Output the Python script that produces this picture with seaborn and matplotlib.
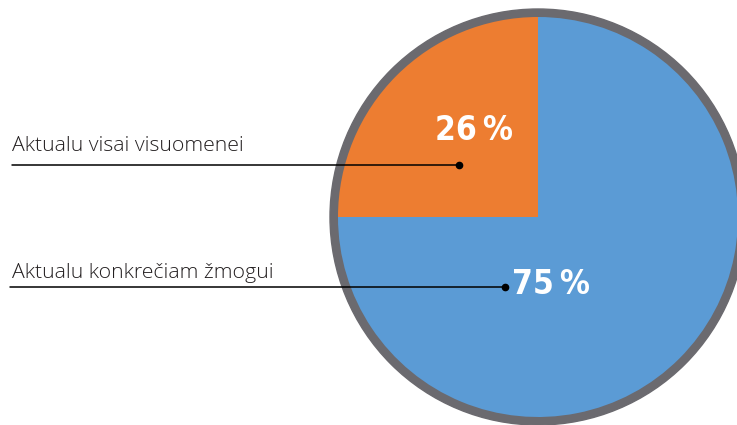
import matplotlib
matplotlib.use('Agg')
import matplotlib.pyplot as plt
import seaborn as sns
from matplotlib.patches import Circle

# slice sizes as drawn (a quarter / three quarters) and the printed labels
labels = ['Aktualu visai visuomenei', 'Aktualu konkrečiam žmogui']
slice_sizes = [25, 75]
pct_labels = ['26\u2009%', '75\u2009%']
colors = ['#ED7D31', '#5B9BD5']
ring_color = '#6B6A6F'

sns.set_theme(style='white')

W, H = 737, 425
fig = plt.figure(figsize=(W / 100, H / 100), dpi=100)
ax = fig.add_axes([0, 0, 1, 1])

cx, cy, r = 538, 208, 200

# grey outer ring behind the pie
ax.add_patch(Circle((cx, cy), r + 8, color=ring_color, zorder=0))

wedges, _ = ax.pie(slice_sizes, colors=colors, startangle=90, counterclock=True,
                   center=(cx, cy), radius=r, frame=True,
                   wedgeprops=dict(linewidth=0))

ax.set_xlim(0, W)
ax.set_ylim(0, H)
ax.set_aspect('equal')
ax.axis('off')

# percentage labels inside the slices
pct_pos = [(474, 295), (551, 140)]
for txt, (px, py) in zip(pct_labels, pct_pos):
    ax.text(px, py, txt, color='white', fontsize=24, fontweight='bold',
            fontstretch='condensed',
            family=['Liberation Sans Narrow', 'DejaVu Sans'],
            ha='center', va='center')

# category labels with leader lines
label_pos = [(12, 274), (12, 147)]
line_pos = [(12, 459, 260), (10, 505, 138)]
for lab, (tx, ty), (x0, x1, ly) in zip(labels, label_pos, line_pos):
    ax.text(tx, ty, lab, fontsize=15.3, fontweight='light', color='#231f20',
            family=['Open Sans', 'DejaVu Sans'], ha='left', va='baseline')
    ax.plot([x0, x1], [ly, ly], color='black', lw=1.1)
    ax.plot(x1, ly, 'o', color='black', markersize=4.5)

fig.savefig('out.png', dpi=100)
